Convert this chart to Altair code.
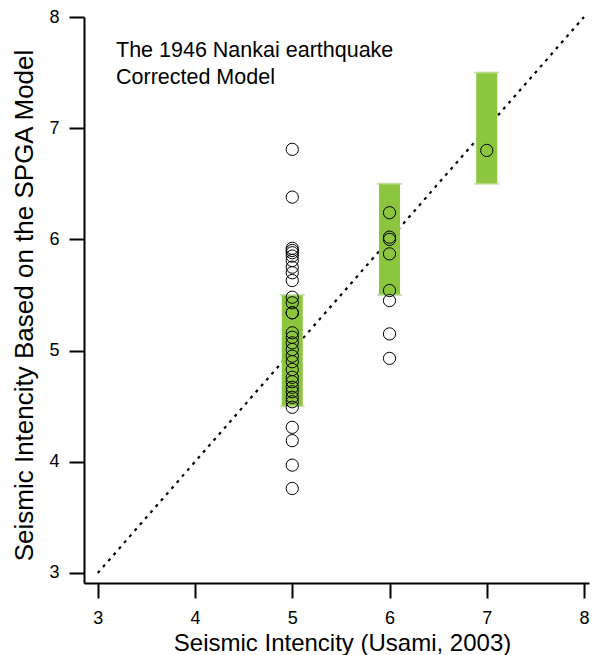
import altair as alt
import pandas as pd

# Seismic intensity (Usami, 2003) groups and SPGA-model intensities
x5_vals = [6.81, 6.38, 5.92, 5.90, 5.88, 5.85, 5.81, 5.75, 5.70, 5.63,
           5.48, 5.43, 5.34, 5.34, 5.16, 5.12, 5.07, 5.01, 4.95, 4.90,
           4.83, 4.76, 4.72, 4.67, 4.63, 4.58, 4.54, 4.49, 4.31, 4.19,
           3.97, 3.76]
x6_vals = [6.24, 6.02, 6.00, 5.87, 5.54, 5.45, 5.15, 4.93]
x7_vals = [6.80]

band_x = [5, 6, 7]
band_lo = [4.5, 5.5, 6.5]
band_hi = [5.5, 6.5, 7.5]

diag_vals = [3, 8]
tick_vals = [3, 4, 5, 6, 7, 8]

FONT = "Liberation Sans"

pts = pd.DataFrame({
    "usami": [5] * len(x5_vals) + [6] * len(x6_vals) + [7] * len(x7_vals),
    "spga": x5_vals + x6_vals + x7_vals,
})
bands = pd.DataFrame({"usami": band_x, "lo": band_lo, "hi": band_hi})
diag = pd.DataFrame({"a": diag_vals, "b": diag_vals})

xscale = alt.Scale(domain=[2.91, 8], nice=False, zero=False)
yscale = alt.Scale(domain=[2.91, 8], nice=False, zero=False)

xaxis = alt.Axis(values=tick_vals, title="Seismic Intencity (Usami, 2003)",
                 format="d", grid=False, labelPadding=11, titleFontSize=24,
                 titleX=258, titleY=67, titleBaseline="alphabetic", titleAlign="center")
yaxis = alt.Axis(values=tick_vals, title="Seismic Intencity Based on the SPGA Model",
                 format="d", grid=False, labelPadding=10, titleFontSize=26,
                 titleX=-52, titleY=288, titleBaseline="alphabetic", titleAlign="center",
                 titleAngle=270)

line = alt.Chart(diag).mark_line(color="black", strokeDash=[3, 5], strokeWidth=2.2).encode(
    x=alt.X("a:Q", scale=xscale, axis=xaxis),
    y=alt.Y("b:Q", scale=yscale, axis=yaxis),
)

bars = alt.Chart(bands).mark_bar(color="#8cc63e", size=21).encode(
    x=alt.X("usami:Q", scale=xscale),
    y=alt.Y("lo:Q", scale=yscale),
    y2="hi:Q",
)

caps_lo = alt.Chart(bands).mark_tick(color="#b3d88a", orient="horizontal", size=25, thickness=2).encode(
    x=alt.X("usami:Q", scale=xscale),
    y=alt.Y("lo:Q", scale=yscale),
)
caps_hi = alt.Chart(bands).mark_tick(color="#b3d88a", orient="horizontal", size=25, thickness=2).encode(
    x=alt.X("usami:Q", scale=xscale),
    y=alt.Y("hi:Q", scale=yscale),
)

points = alt.Chart(pts).mark_point(shape="circle", filled=False, color="black",
                                    size=150, strokeWidth=1, opacity=1).encode(
    x=alt.X("usami:Q", scale=xscale),
    y=alt.Y("spga:Q", scale=yscale),
)

note = alt.Chart(pd.DataFrame({"t": [0]})).mark_text(
    align="left", baseline="alphabetic", fontSize=21.5, font=FONT, color="black", lineHeight=26.7,
    text=["The 1946 Nankai earthquake", "Corrected Model"],
).encode(x=alt.value(32), y=alt.value(40))

chart = alt.layer(line, bars, caps_lo, caps_hi, points, note).properties(
    width=505, height=566,
    autosize=alt.AutoSizeParams(type="none"),
    padding={"left": 76, "top": 9, "right": 3, "bottom": 74},
).configure_view(stroke=None).configure_axis(
    domainColor="black", domainWidth=2, tickColor="black", tickWidth=2, tickSize=15,
    labelFont=FONT, labelFontSize=18, labelColor="black",
    titleFont=FONT, titleColor="black", titleFontWeight="normal",
)

chart.save("out.html", embed_options={"renderer": "svg", "actions": False})
